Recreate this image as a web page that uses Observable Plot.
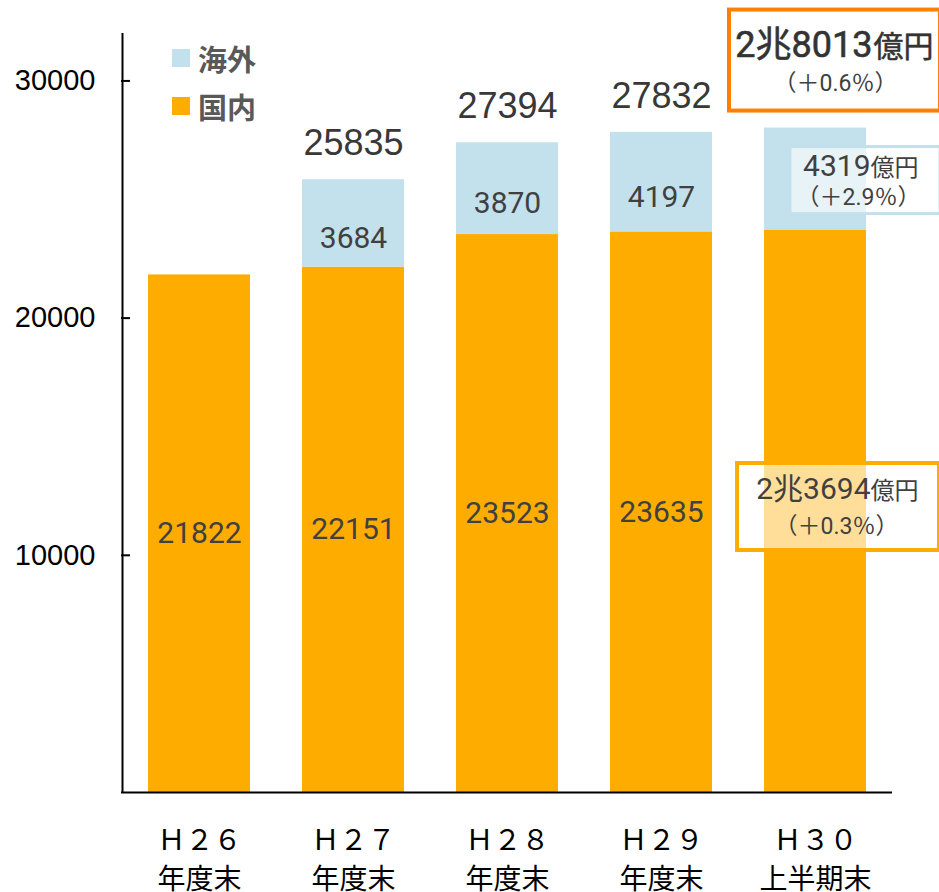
<!DOCTYPE html>
<html>
<head>
<meta charset="utf-8">
<script src="https://cdn.jsdelivr.net/npm/d3@7"></script>
<script src="https://cdn.jsdelivr.net/npm/@observablehq/plot@0.6"></script>
<style>
  body { margin: 0; background: #fff; }
  #wrap { position: relative; width: 939px; height: 892px; }
  .legend { position: absolute; left: 172px; top: 34px; font-family: "Noto Sans CJK JP", sans-serif; font-weight: bold; font-size: 29px; color: #595959; }
  .legend .row { display: flex; align-items: center; height: 48px; }
  .legend .sw { width: 18px; height: 18px; margin-right: 8px; }
</style>
</head>
<body>
<div id="wrap"></div>
<script>
// ---- data ----
const periods = ["H26", "H27", "H28", "H29", "H30"];
const periodLabels = ["Ｈ２６\n年度末", "Ｈ２７\n年度末", "Ｈ２８\n年度末", "Ｈ２９\n年度末", "Ｈ３０\n上半期末"];
const domestic = [21822, 22151, 23523, 23635, 23694];   // 国内
const overseas = [null, 3684, 3870, 4197, 4319];         // 海外
const totals = [null, 25835, 27394, 27832, 28013];
const latestChanges = ["（＋0.6％）", "（＋2.9％）", "（＋0.3％）"]; // total, 海外, 国内
const seriesNames = ["海外", "国内"];
const seriesColors = ["#C2E1EC", "#FFAC00"];
const yTicks = [10000, 20000, 30000];
const yMax = 32000;

// ---- build rows ----
const rows = periods.map((p, i) => ({
  p, label: periodLabels[i], dom: domestic[i], ovs: overseas[i], total: totals[i]
}));
const last = rows[rows.length - 1];
const prior = rows.slice(0, -1);
const fmtCho = v => v >= 10000 ? `${Math.floor(v / 10000)}兆${v % 10000}` : `${v}`;
const numFont = "Roboto, 'Noto Sans CJK JP', sans-serif";
const cjkFont = "'Noto Sans CJK JP', sans-serif";
const txt = "#404040";

const chart = Plot.plot({
  width: 939,
  height: 892,
  marginTop: 33,
  marginBottom: 100,
  marginLeft: 121,
  marginRight: 47,
  style: { background: "transparent", overflow: "visible" },
  x: { domain: periods, paddingInner: 0.34, paddingOuter: 0.17, axis: null },
  y: { domain: [0, yMax], axis: null },
  marks: [
    // bars
    Plot.barY(rows, { x: "p", y1: 0, y2: "dom", fill: seriesColors[1] }),
    Plot.barY(rows.filter(d => d.ovs), { x: "p", y1: "dom", y2: d => d.dom + d.ovs, fill: seriesColors[0] }),
    // axes
    Plot.axisY({ ticks: yTicks, tickSize: 0, tickPadding: 26,
      tickFormat: d => String(d), fontSize: 29, fontFamily: "'Liberation Sans', Arial, sans-serif", fill: "#000" }),
    Plot.axisY({ ticks: yTicks, tickSize: 9, dx: 9, strokeWidth: 2, stroke: "#000", tickFormat: () => "" }),
    Plot.ruleX([periods[0]], { x: d => d, y1: 0, y2: yMax, dx: -77, stroke: "#000", strokeWidth: 2 }),
    Plot.ruleY([0], { stroke: "#000", strokeWidth: 2 }),
    Plot.text(rows, { x: "p", y: 0, text: "label", lineAnchor: "top", dy: 29, lineHeight: 1.42,
      fontSize: 28, fontFamily: cjkFont, fill: "#000" }),
    // value labels for earlier periods
    Plot.text(prior, { x: "p", y: d => d.dom / 2, text: d => String(d.dom), fontSize: 30, fontFamily: numFont, fill: txt }),
    Plot.text(prior.filter(d => d.ovs), { x: "p", y: d => d.dom + d.ovs / 2, dy: 15, text: d => String(d.ovs),
      fontSize: 30, fontFamily: numFont, fill: txt }),
    Plot.text(prior.filter(d => d.total), { x: "p", y: "total", dy: -36, text: d => String(d.total),
      fontSize: 36, fontFamily: "'Liberation Sans', Arial, sans-serif", fill: "#383838" }),
    // latest period call-out boxes
    Plot.barY([last], { x: "p", y1: "total", y2: "total", insetLeft: -35, insetRight: -74, insetTop: -118, insetBottom: 17,
      fill: "white", stroke: "#FF8000", strokeWidth: 4 }),
    Plot.barY([last], { x: "p", y1: "total", y2: "total", insetLeft: 26, insetRight: -74, insetTop: 19, insetBottom: -86,
      fill: "white", fillOpacity: 0.6, stroke: seriesColors[0], strokeWidth: 3 }),
    Plot.barY([last], { x: "p", y1: d => d.dom / 2, y2: d => d.dom / 2, insetLeft: -27, insetRight: -73, insetTop: -48, insetBottom: -39,
      fill: "white", fillOpacity: 0.6, stroke: seriesColors[1], strokeWidth: 4 }),
    // total call-out text
    Plot.text([last], { x: "p", y: "total", text: d => fmtCho(d.total), textAnchor: "end", dx: 57, dy: -83,
      fontSize: 36, fontFamily: numFont, fill: "#333", stroke: "#333", strokeWidth: 0.6 }),
    Plot.text([last], { x: "p", y: "total", text: () => "億円", textAnchor: "start", dx: 58, dy: -81,
      fontSize: 30, fontFamily: cjkFont, fill: "#333", stroke: "#333", strokeWidth: 0.5 }),
    Plot.text([last], { x: "p", y: "total", text: () => latestChanges[0], dx: 20, dy: -44,
      fontSize: 23, fontFamily: numFont, fill: txt }),
    // overseas call-out text
    Plot.text([last], { x: "p", y: "total", text: d => String(d.ovs), textAnchor: "end", dx: 55, dy: 38,
      fontSize: 30, fontFamily: numFont, fill: txt }),
    Plot.text([last], { x: "p", y: "total", text: () => "億円", textAnchor: "start", dx: 55, dy: 40,
      fontSize: 24, fontFamily: cjkFont, fill: txt }),
    Plot.text([last], { x: "p", y: "total", text: () => latestChanges[1], dx: 43, dy: 70,
      fontSize: 23, fontFamily: numFont, fill: txt }),
    // domestic call-out text
    Plot.text([last], { x: "p", y: d => d.dom / 2, text: d => fmtCho(d.dom), textAnchor: "end", dx: 55, dy: -22,
      fontSize: 30, fontFamily: numFont, fill: txt }),
    Plot.text([last], { x: "p", y: d => d.dom / 2, text: () => "億円", textAnchor: "start", dx: 55, dy: -20,
      fontSize: 24, fontFamily: cjkFont, fill: txt }),
    Plot.text([last], { x: "p", y: d => d.dom / 2, text: () => latestChanges[2], dx: 21, dy: 15,
      fontSize: 23, fontFamily: numFont, fill: txt })
  ]
});

const wrap = document.getElementById("wrap");
wrap.appendChild(chart);

// legend
const legend = document.createElement("div");
legend.className = "legend";
seriesNames.forEach((name, i) => {
  const row = document.createElement("div");
  row.className = "row";
  const sw = document.createElement("div");
  sw.className = "sw";
  sw.style.background = seriesColors[i];
  const label = document.createElement("span");
  label.textContent = name;
  row.appendChild(sw);
  row.appendChild(label);
  legend.appendChild(row);
});
wrap.appendChild(legend);
</script>
</body>
</html>
